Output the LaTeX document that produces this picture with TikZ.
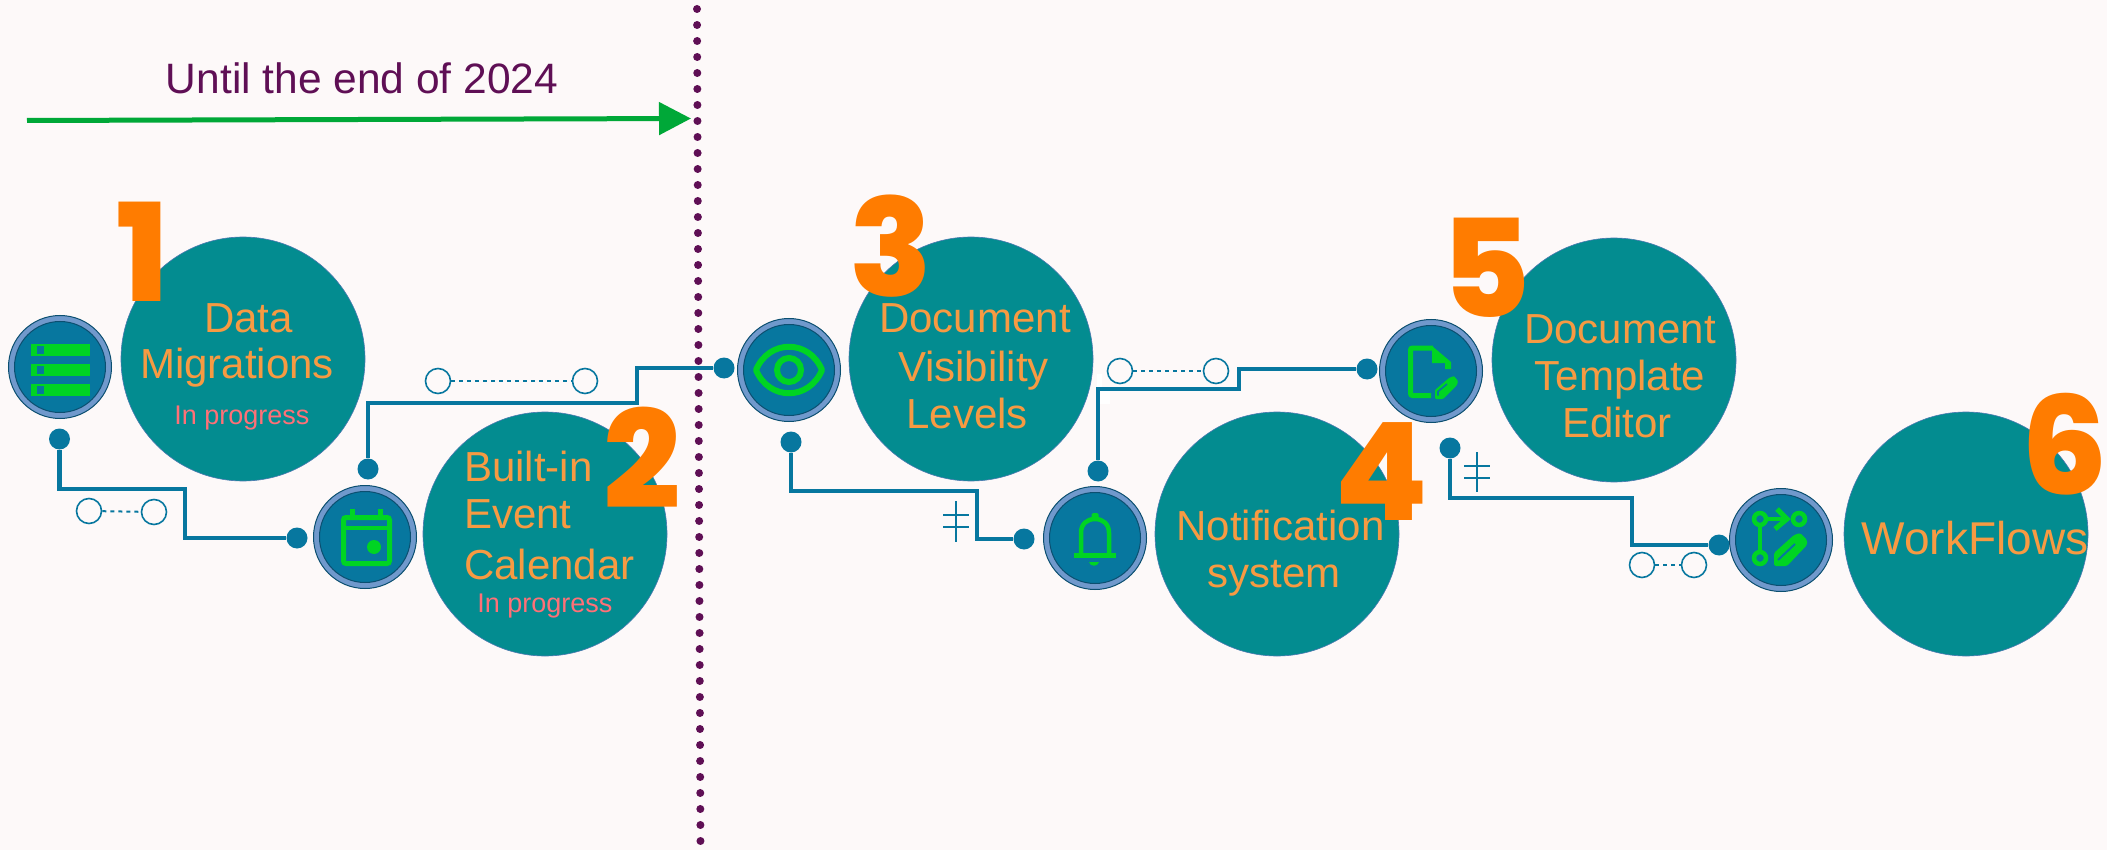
\documentclass[tikz,border=0pt]{standalone}
\usepackage{fontspec}
\setmainfont{Liberation Sans}
\newfontfamily\numfont{Poppins ExtraBold}
\usetikzlibrary{arrows.meta}
\definecolor{bgc}{HTML}{FDF9F9}
\definecolor{tealc}{HTML}{038C90}
\definecolor{edgec}{HTML}{4A78B0}
\definecolor{linec}{HTML}{07779F}
\definecolor{ringc}{HTML}{7099CC}
\definecolor{darkc}{HTML}{0B4F70}
\definecolor{greenc}{HTML}{00D423}
\definecolor{orangec}{HTML}{FF7C00}
\definecolor{textc}{HTML}{F79A42}
\definecolor{statusc}{HTML}{FF7077}
\definecolor{plumc}{HTML}{5F0F55}
\definecolor{arrowc}{HTML}{00A838}
\tikzset{
  bigc/.style={circle,fill=tealc,draw=edgec,line width=0.6pt,minimum size=244pt,inner sep=0pt},
  lbl/.style={anchor=base,inner sep=0pt,text=textc,font=\fontsize{42}{48}\selectfont},
  statuslbl/.style={anchor=base,inner sep=0pt,text=statusc,font=\fontsize{27}{30}\selectfont},
  numlbl/.style={anchor=center,inner sep=0pt,text=orangec,font=\numfont\fontsize{136}{140}\selectfont},
  dotn/.style={circle,fill=linec,minimum size=21pt,inner sep=0pt},
  conn/.style={draw=linec,line width=4.4pt,line join=miter},
  ringo/.style={circle,draw=linec,line width=1.6pt,minimum size=25pt,inner sep=0pt,fill=bgc},
  dashc/.style={draw=linec,line width=2pt,dash pattern=on 4pt off 4pt},
  tallyl/.style={draw=linec,line width=1.4pt},
  icouter/.style={circle,fill=ringc,draw=darkc,line width=1pt,minimum size=103pt,inner sep=0pt},
  icinner/.style={circle,fill=linec,draw=darkc,line width=1pt,minimum size=91pt,inner sep=0pt},
  gstroke/.style={draw=greenc,line width=5pt},
  gfill/.style={fill=greenc,draw=none},
  patch/.style={fill=white,draw=none},
}
\newcommand{\iconbase}[3]{\node[icouter] (#1) at (#2,#3) {};\node[icinner] (#1i) at (#2,#3) {};}
\begin{document}
\begin{tikzpicture}[x=1pt,y=-1pt]
\useasboundingbox (0,0) rectangle (2107,850);
\fill[bgc] (0,0) rectangle (2107,850);
% big circles
\node[bigc] (c1) at (243,359) {};
\node[bigc] (c2) at (545,534) {};
\node[bigc] (c3) at (971,359) {};
\node[bigc] (c4) at (1277,534) {};
\node[bigc] (c5) at (1614,360) {};
\node[bigc] (c6) at (1966,534) {};
% numbers
\node[numlbl] (n1) at (143,252) {1};
\node[numlbl] (n2) at (642,458) {2};
\node[numlbl] (n3) at (891,246) {3};
\node[numlbl] (n4) at (1381,472) {4};
\node[numlbl] (n5) at (1486,268) {5};
\node[numlbl] (n6) at (2065,444) {6};
% texts
\node[lbl] (t1a) at (248.5,332) {Data};
\node[lbl] (t1b) at (237,378) {Migrations};
\node[statuslbl] (t1c) at (242,424) {In progress};
\node[lbl,anchor=base west] (t2a) at (464,481) {Built-in};
\node[lbl,anchor=base west] (t2b) at (464,528) {Event};
\node[lbl,anchor=base west] (t2c) at (464,579) {Calendar};
\node[statuslbl] (t2d) at (545,612) {In progress};
\node[lbl] (t3a) at (975,333) {Document};
\node[lbl] (t3b) at (973.5,381) {Visibility};
\node[lbl] (t3c) at (967,428) {Levels};
\node[lbl] (t4a) at (1280.5,540) {Notification};
\node[lbl] (t4b) at (1274,587) {system};
\node[lbl] (t5a) at (1620,343) {Document};
\node[lbl] (t5b) at (1620,390) {Template};
\node[lbl] (t5c) at (1617,437) {Editor};
\node[lbl,font=\fontsize{46}{50}\selectfont] (t6a) at (1975,554) {WorkFlows};
% title and arrow
\node[anchor=base,inner sep=0pt,text=plumc,font=\fontsize{42.5}{46}\selectfont] (title) at (362,94) {Until the end of 2024};
\coordinate (arrA) at (27,120.5);
\coordinate (arrB) at (691,118.5);
\draw[arrowc,line width=5pt,-{Triangle[length=32pt,width=32pt]}] (arrA) -- (arrB);
% patches
\fill[patch] (1097,374) rectangle (1102,387);
\fill[patch] (1099,391) rectangle (1110,404);
% connector dots
\node[dotn] (d1) at (59.5,439) {};
\node[dotn] (d2) at (297,538) {};
\node[dotn] (d3) at (368,469) {};
\node[dotn] (d4) at (724,368) {};
\node[dotn] (d5) at (791,442) {};
\node[dotn] (d6) at (1024,539) {};
\node[dotn] (d7) at (1098,471) {};
\node[dotn] (d8) at (1367,369) {};
\node[dotn] (d9) at (1450,448) {};
\node[dotn] (d10) at (1719,545) {};
\coordinate (p1) at (185,489);
\coordinate (p2) at (637,403);
\coordinate (p3) at (977,491);
\coordinate (p4) at (1239,389);
\coordinate (p5) at (1632,498);
\draw[conn] (d1) |- (p1) |- (d2);
\draw[conn] (d3) |- (p2) |- (d4);
\draw[conn] (d5) |- (p3) |- (d6);
\draw[conn] (d7) |- (p4) |- (d8);
\draw[conn] (d9) |- (p5) |- (d10);
% small ring pairs
\node[ringo] (r1a) at (89,511) {};
\node[ringo] (r1b) at (154,512) {};
\draw[dashc] (r1a) -- (r1b);
\node[ringo] (r2a) at (438,381) {};
\node[ringo] (r2b) at (585,381) {};
\draw[dashc] (r2a) -- (r2b);
\node[ringo] (r3a) at (1120,371) {};
\node[ringo] (r3b) at (1216,371) {};
\draw[dashc] (r3a) -- (r3b);
\node[ringo] (r4a) at (1642,565) {};
\node[ringo] (r4b) at (1694,565) {};
\draw[dashc] (r4a) -- (r4b);
% tallies
\draw[tallyl] (956,501) -- (956,542);
\draw[tallyl] (943,515) -- (969,515);
\draw[tallyl] (943,527) -- (969,527);
\draw[tallyl] (1477,452) -- (1477,492);
\draw[tallyl] (1464,466) -- (1490,466);
\draw[tallyl] (1464,478) -- (1490,478);
% icon 1 : data
\iconbase{i1}{60}{367}
\begin{scope}[shift={(60,367)}]
 \foreach \yy in {-23,-3,17}{
  \fill[greenc] (-29,\yy) rectangle (30,\yy+12);
  \fill[linec] (-23,\yy+2) rectangle (-16,\yy+10);
 }
\end{scope}
% icon 2 : calendar
\iconbase{i2}{365}{537}
\begin{scope}[shift={(365,537)}]
 \draw[gstroke,rounded corners=2.5pt] (-21.5,-19.5) rectangle (24.5,26.5);
 \fill[greenc] (-21.5,-11) rectangle (24.5,-7);
 \fill[greenc] (-15,-28) rectangle (-10,-20);
 \fill[greenc] (13,-28) rectangle (18,-20);
 \fill[greenc] (9,10) circle (7);
\end{scope}
% icon 3 : eye
\iconbase{i3}{789}{370}
\begin{scope}[shift={(789,370)}]
 \draw[draw=greenc,line width=6pt,line join=round] (-33,0) .. controls (-20,-31) and (20,-31) .. (33,0) .. controls (20,31) and (-20,31) .. (-33,0) -- cycle;
 \draw[draw=greenc,line width=6pt] (0,0) circle (12);
\end{scope}
% icon 4 : bell
\iconbase{i4}{1095}{538}
\begin{scope}[shift={(1095,538)}]
 \draw[draw=greenc,line width=4.5pt] (-14,16) -- (-14,-5) .. controls (-14,-14) and (-8,-19) .. (0,-19) .. controls (8,-19) and (14,-14) .. (14,-5) -- (14,16);
 \fill[greenc] (-21.5,15) rectangle (21,20);
 \fill[greenc,rounded corners=1.5pt] (-3.5,-25) rectangle (3.5,-18);
 \fill[greenc] (-6,24) -- (4,24) .. controls (3,29) and (-5,29) .. (-6,24) -- cycle;
\end{scope}
% icon 5 : document
\iconbase{i5}{1431}{371}
\begin{scope}[shift={(1431,371)}]
 \draw[gstroke,rounded corners=2pt] (2,-23) -- (-20.5,-23) -- (-20.5,24.5) -- (0,24.5);
 \fill[greenc] (1,-25) -- (20,-9) -- (20,-2) -- (14,-2) -- (14,-8) -- (1,-8) -- cycle;
 \fill[greenc,rounded corners=1pt] (4,28) -- (4,19) -- (18,7) -- (23,5) -- (27,10) -- (26,14) -- (12,28) -- cycle;
 \draw[linec,line width=1.6pt] (7,24.5) -- (7,20.5) -- (16,13);
\end{scope}
% icon 6 : branch
\iconbase{i6}{1781}{540}
\begin{scope}[shift={(1781,540)}]
 \draw[draw=greenc,line width=4pt] (-21,-21) -- (-21,18);
 \draw[draw=greenc,line width=4pt] (-21,-21) -- (4,-21);
 \draw[draw=greenc,line width=5pt] (-4,-31) -- (6,-21) -- (-6,-11);
 \draw[draw=greenc,line width=4.5pt,fill=linec] (-21,-21) circle (6);
 \draw[draw=greenc,line width=4.5pt,fill=linec] (18,-21) circle (6);
 \draw[draw=greenc,line width=4.5pt,fill=linec] (-21,18) circle (6);
 \fill[greenc,rounded corners=1.5pt] (-7,26) -- (-7,13) -- (13,-5) -- (19,-7) -- (26,0) -- (26,5) -- (6,26) -- cycle;
 \draw[linec,line width=2pt] (-3,20) -- (14,4);
\end{scope}
% time boundary
\coordinate (vtop) at (697,9);
\coordinate (vbot) at (700.5,849);
\draw[plumc,line width=8pt,line cap=round,dash pattern=on 0pt off 16pt] (vtop) -- (vbot);
\end{tikzpicture}
\end{document}
